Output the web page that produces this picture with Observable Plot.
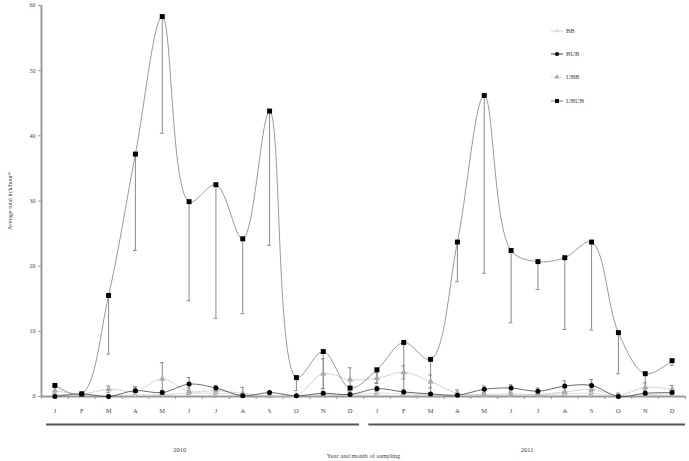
<!DOCTYPE html>
<html><head><meta charset="utf-8">
<script src="https://cdn.jsdelivr.net/npm/d3@7"></script>
<script src="https://cdn.jsdelivr.net/npm/@observablehq/plot@0.6"></script>
<style>
body{margin:0;background:#fff}
#chart{position:relative;width:689px;height:461px;font-family:"Liberation Serif",serif}
#legend{position:absolute;left:548px;top:20px}
</style>
</head><body><div id="chart"></div>
<script>
// ---- data ----
const months = ["J","F","M","A","M","J","J","A","S","O","N","D","J","F","M","A","M","J","J","A","S","O","N","D"];
const years = ["2010","2011"];
const yearStart = [0, 12];
const yearEnd = [11, 23];
const yTicks = [0,10,20,30,40,50,60];
const seriesNames = ["BB","BUB","UBB","UBUB"];

const BB   = [0.3,0.2,0.2,0.2,0.3,0.5,0.5,0.3,0.1,0.1,0.3,0.3, 0.5,0.4,0.3,0.2,0.3,0.4,0.3,0.4,0.5,0.1,0.3,0.4];
const BUB  = [0.0,0.4,0.0,0.9,0.6,1.9,1.3,0.1,0.6,0.1,0.5,0.3, 1.2,0.7,0.4,0.2,1.1,1.3,0.8,1.6,1.7,0.0,0.5,0.6];
const UBB  = [0.9,0.4,1.1,0.8,2.7,0.8,0.9,0.5,0.1,0.1,3.5,2.6, 2.8,3.7,2.3,0.5,0.2,0.2,0.3,0.7,1.1,0.2,1.4,1.1];
const UBUB = [1.7,0.4,15.5,37.2,58.3,29.9,32.5,24.2,43.8,2.9,6.9,1.3, 4.1,8.3,5.7,23.7,46.2,22.4,20.7,21.3,23.7,9.8,3.5,5.5];

// error bar half-lengths (UBUB shows minus bars only)
const errBB   = [0.2,0.1,0.1,0.1,0.2,0.2,0.2,0.1,0.1,0.1,0.2,0.2, 0.2,0.2,0.2,0.1,0.2,0.2,0.2,0.2,0.2,0.1,0.2,0.2];
const errBUB  = [0,0,0,0.6,0.3,1.0,0.4,0,0.2,0,0.3,0.2, 0.4,0.3,0.2,0.1,0.5,0.5,0.5,0.8,0.9,0,0.3,0.3];
const errUBB  = [0.6,0,0.5,0.5,2.5,0.5,0.5,0.9,0.3,0,2.3,1.8, 0.8,1.0,1.0,0.5,0.3,0.3,0.3,0.6,0.8,0.3,0.7,0.6];
const errUBUB = [0,0,9.0,14.8,17.9,15.2,20.5,11.5,20.6,2.0,5.7,0, 2.0,8.0,5.4,6.1,27.3,11.1,4.3,11.0,13.5,6.3,2.5,0.7];

const valuesBy = {BB, BUB, UBB, UBUB};
const errBy = {BB: errBB, BUB: errBUB, UBB: errUBB, UBUB: errUBUB};
const minusOnly = {BB:false, BUB:false, UBB:false, UBUB:true};

const style = {
  BB:   {stroke:"#d2d2d2", dash:null, symbol:"plus", fill:"#c8c8c8", r:1.8, width:0.8},
  BUB:  {stroke:"#444444", dash:null, symbol:"circle", fill:"#000", r:2.5, width:0.8},
  UBB:  {stroke:"#c0c0c0", dash:"1.5,1.5", symbol:"triangle", fill:"#aaaaaa", r:2.4, width:0.9},
  UBUB: {stroke:"#808080", dash:null, symbol:"square", fill:"#000", r:2.8, width:0.8}
};

const rows = [];
for (const s of seriesNames) {
  valuesBy[s].forEach((v, i) => {
    const e = errBy[s][i];
    rows.push({series:s, i, value:v, lo: Math.max(0, v - e), hi: minusOnly[s] ? v : v + e, e});
  });
}
const errRows = rows.filter(d => d.e > 0);
const yearRows = years.map((y, k) => ({year:y, start:yearStart[k], end:yearEnd[k]}));

const font = "Liberation Serif";
const marks = [
  Plot.ruleY([0], {stroke:"#9a9a9a", strokeWidth:2}),
  Plot.ruleX([-0.5], {stroke:"#9a9a9a", strokeWidth:2}),
  Plot.axisY({ticks: yTicks, tickSize:3, tickPadding:3, stroke:"#999", fontSize:6, fill:"#444",
    label:"Average total tick/hour*", labelAnchor:"center", labelArrow:"none", labelOffset:34}),
  Plot.axisX({ticks: d3.range(-0.5, 24, 1), tickSize:3, tickFormat: () => "", stroke:"#999", label:null}),
  Plot.axisX({ticks: d3.range(0, 24), tickSize:0, tickPadding:12, tickFormat: i => months[i], fontSize:6.5, fill:"#444", label:null}),
  // error bars
  Plot.ruleX(errRows, {x:"i", y1:"lo", y2:"hi", stroke:"#8a8a8a", strokeWidth:1}),
  Plot.ruleY(errRows, {y:"lo", x1: d => d.i - 0.07, x2: d => d.i + 0.07, stroke:"#8a8a8a", strokeWidth:1}),
  Plot.ruleY(errRows.filter(d => d.hi > d.value), {y:"hi", x1: d => d.i - 0.07, x2: d => d.i + 0.07, stroke:"#8a8a8a", strokeWidth:1}),
];
for (const s of ["BB","UBB","BUB","UBUB"]) {
  const st = style[s];
  const data = rows.filter(d => d.series === s);
  marks.push(Plot.line(data, {x:"i", y:"value", stroke:st.stroke, strokeWidth:st.width, strokeDasharray:st.dash, curve:"catmull-rom"}));
  if (st.symbol === "plus") {
    marks.push(Plot.dot(data, {x:"i", y:"value", symbol:"plus", stroke:st.fill, r:st.r}));
  } else {
    marks.push(Plot.dot(data, {x:"i", y:"value", symbol:st.symbol, fill:st.fill, r:st.r}));
  }
}
// year bars and labels
marks.push(
  Plot.ruleY(yearRows, {y:0, x1: d => d.start - (d.start === 0 ? 0.31 : 0.3), x2: d => d.end + (d.end === 23 ? 0.5 : 0.35), dy:28, stroke:"#555", strokeWidth:2}),
  Plot.text(yearRows, {x: d => d.start === 0 ? 4.65 : 17.6, y:0, dy:53, text:"year", fontSize:6.5, fill:"#444"}),
  Plot.text(["Year and month of sampling"], {x:11.5, y:0, dy:59, text:d => d, fontSize:6.5, fill:"#444"})
);

const chart = Plot.plot({
  width:689, height:461,
  marginLeft:41, marginRight:4, marginTop:5, marginBottom:65,
  style:{fontFamily:font, background:"#fff", overflow:"visible"},
  x:{domain:[-0.5, 23.5]},
  y:{domain:[0, 60]},
  marks
});
const root = document.getElementById("chart");
root.appendChild(chart);

// legend
const lg = d3.select(root).append("svg").attr("id","legend").attr("width",80).attr("height",95)
  .style("font-family", font);
const legY = [11, 34, 57, 81];
seriesNames.forEach((s, k) => {
  const st = style[s];
  const g = lg.append("g").attr("transform", `translate(0,${legY[k]})`);
  g.append("line").attr("x1",3).attr("x2",15).attr("y1",0).attr("y2",0)
    .attr("stroke", st.stroke).attr("stroke-dasharray", st.dash);
  const sym = {circle:d3.symbolCircle, square:d3.symbolSquare, triangle:d3.symbolTriangle, plus:d3.symbolCross}[st.symbol];
  const area = st.symbol === "square" ? 16 : st.symbol === "triangle" ? 12 : st.symbol === "plus" ? 8 : 14;
  const p = g.append("path").attr("d", d3.symbol(sym, area)()).attr("transform","translate(9,0)");
  if (st.symbol === "plus") p.attr("fill","#ddd"); else p.attr("fill", st.fill);
  g.append("text").attr("x",18).attr("y",2.2).attr("font-size",6.5).attr("fill","#444").text(s);
});
</script></body></html>
